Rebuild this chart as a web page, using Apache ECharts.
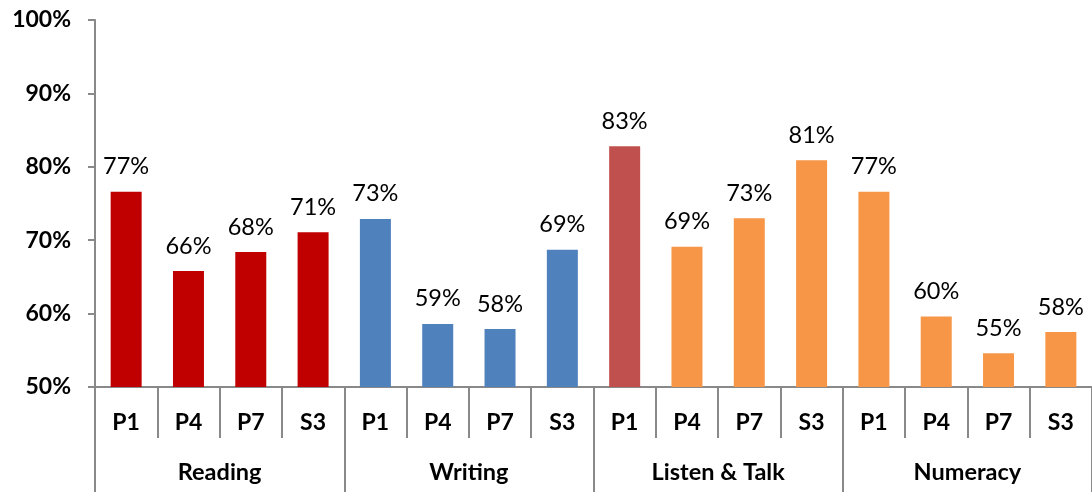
<!DOCTYPE html>
<html>
<head>
<meta charset="utf-8">
<script src="https://cdn.jsdelivr.net/npm/echarts@6/dist/echarts.min.js"></script>
<style>
html,body{margin:0;padding:0;background:#fff;}
#chart{width:1092px;height:492px;}
</style>
</head>
<body>
<div id="chart"></div>
<script>
// ---- data ----
const groups = ['Reading', 'Writing', 'Listen & Talk', 'Numeracy'];
const levels = ['P1', 'P4', 'P7', 'S3'];
const reading = [76.6, 65.8, 68.4, 71.1];
const writing = [72.9, 58.6, 57.9, 68.7];
const listenTalk = [82.8, 69.1, 73.0, 80.9];
const numeracy = [76.6, 59.6, 54.6, 57.5];
const yTicks = [50, 60, 70, 80, 90, 100];

// ---- build ----
const groupValues = [reading, writing, listenTalk, numeracy];
const groupColors = ['#C00000', '#4F81BD', '#F79646', '#F79646'];
const categories = [];
const barData = [];
groupValues.forEach((vals, g) => {
  vals.forEach((v, i) => {
    categories.push(levels[i]);
    let color = groupColors[g];
    if (g === 2 && i === 0) color = '#C0504D';
    barData.push({ value: v, itemStyle: { color: color } });
  });
});

const axisGray = '#898989';
const fontFam = 'Lato, "Open Sans", sans-serif';

const chart = echarts.init(document.getElementById('chart'), null, { renderer: 'canvas' });
chart.setOption({
  animation: false,
  backgroundColor: '#ffffff',
  grid: { left: 95, right: -9, top: 20, bottom: 105, containLabel: false },
  xAxis: [
    {
      type: 'category',
      data: categories,
      position: 'bottom',
      axisLine: { show: true, lineStyle: { color: axisGray, width: 2 } },
      axisTick: { show: true, interval: 0, length: 51, lineStyle: { color: axisGray, width: 2 } },
      axisLabel: { interval: 0, margin: 24, fontSize: 23, fontWeight: 'bold', color: '#000', fontFamily: fontFam }
    },
    {
      type: 'category',
      data: groups,
      position: 'bottom',
      offset: 0,
      axisLine: { show: false },
      axisTick: { show: true, interval: 0, length: 106, lineStyle: { color: axisGray, width: 2 } },
      axisLabel: { interval: 0, margin: 73, fontSize: 23.5, fontWeight: 'bold', color: '#000', fontFamily: fontFam }
    }
  ],
  yAxis: {
    type: 'value',
    min: yTicks[0],
    max: yTicks[yTicks.length - 1],
    interval: 10,
    splitLine: { show: false },
    axisLine: { show: true, lineStyle: { color: axisGray, width: 2 } },
    axisTick: { show: true, length: 7, lineStyle: { color: axisGray, width: 2 } },
    axisLabel: { margin: 24, fontSize: 23, fontWeight: 'bold', color: '#000', fontFamily: fontFam, formatter: '{value}%' }
  },
  series: [
    {
      type: 'bar',
      xAxisIndex: 0,
      data: barData,
      barWidth: 31,
      label: {
        show: true,
        position: 'top',
        distance: 13,
        fontSize: 23.5,
        color: '#000',
        fontFamily: fontFam,
        formatter: p => Math.round(p.value) + '%'
      }
    }
  ]
});
</script>
</body>
</html>
